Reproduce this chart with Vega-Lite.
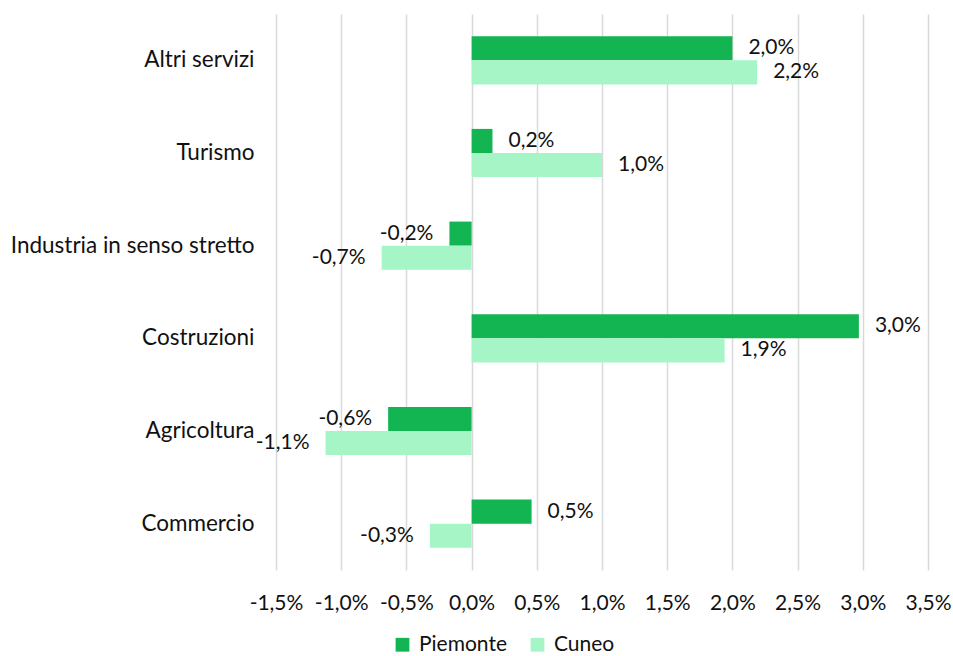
{
  "$schema": "https://vega.github.io/schema/vega-lite/v6.json",
  "width": 652,
  "height": 556,
  "autosize": {"type": "none"},
  "padding": {"left": 276, "top": 14, "right": 25, "bottom": 86},
  "background": "white",
  "config": {
    "locale": {"number": {"decimal": ",", "thousands": ".", "grouping": [3], "currency": ["", " €"], "minus": "-"}},
    "font": "Lato",
    "view": {"stroke": null},
    "axis": {"labelFont": "Lato", "labelFontSize": 21, "labelColor": "#111111"},
    "legend": {"labelFont": "Lato", "labelFontSize": 21, "labelColor": "#111111"}
  },
  "data": {
    "values": [
      {"settore": "Altri servizi", "area": "Piemonte", "valore": 0.0200},
      {"settore": "Altri servizi", "area": "Cuneo", "valore": 0.0219},
      {"settore": "Turismo", "area": "Piemonte", "valore": 0.0016},
      {"settore": "Turismo", "area": "Cuneo", "valore": 0.0100},
      {"settore": "Industria in senso stretto", "area": "Piemonte", "valore": -0.0017},
      {"settore": "Industria in senso stretto", "area": "Cuneo", "valore": -0.0069},
      {"settore": "Costruzioni", "area": "Piemonte", "valore": 0.0297},
      {"settore": "Costruzioni", "area": "Cuneo", "valore": 0.0194},
      {"settore": "Agricoltura", "area": "Piemonte", "valore": -0.0064},
      {"settore": "Agricoltura", "area": "Cuneo", "valore": -0.0112},
      {"settore": "Commercio", "area": "Piemonte", "valore": 0.0046},
      {"settore": "Commercio", "area": "Cuneo", "valore": -0.0032}
    ]
  },
  "encoding": {
    "y": {
      "field": "settore", "type": "nominal",
      "sort": ["Altri servizi", "Turismo", "Industria in senso stretto", "Costruzioni", "Agricoltura", "Commercio"],
      "scale": {"paddingInner": 0.48, "paddingOuter": 0.24},
      "axis": {"title": null, "domain": false, "ticks": false, "labelPadding": 22, "labelLimit": 0, "labelFontSize": 22.5}
    },
    "yOffset": {"field": "area", "type": "nominal", "sort": ["Piemonte", "Cuneo"], "scale": {"paddingInner": 0, "paddingOuter": 0}},
    "x": {
      "field": "valore", "type": "quantitative",
      "scale": {"domain": [-0.015, 0.035], "nice": false, "zero": false},
      "axis": {"title": null, "format": ".1%", "values": [-0.015, -0.01, -0.005, 0, 0.005, 0.01, 0.015, 0.02, 0.025, 0.03, 0.035],
               "domain": false, "ticks": false, "grid": true, "gridColor": "#d9d9d9", "gridWidth": 1.5, "labelPadding": 22, "labelFlush": false}
    }
  },
  "layer": [
    {
      "mark": {"type": "bar"},
      "encoding": {
        "color": {
          "field": "area", "type": "nominal",
          "scale": {"domain": ["Piemonte", "Cuneo"], "range": ["#13B552", "#A6F5C6"]},
          "legend": {"title": null, "orient": "none", "legendX": 116, "legendY": 620, "direction": "horizontal", "symbolType": "square", "symbolSize": 190, "symbolStrokeWidth": 0, "labelOffset": 6, "columnPadding": 20}
        }
      }
    },
    {
      "transform": [{"filter": "datum.valore >= 0"}],
      "mark": {"type": "text", "align": "left", "baseline": "middle", "dx": 16, "fontSize": 21, "color": "#111111"},
      "encoding": {"text": {"field": "valore", "type": "quantitative", "format": ".1%"}}
    },
    {
      "transform": [{"filter": "datum.valore < 0"}],
      "mark": {"type": "text", "align": "right", "baseline": "middle", "dx": -16, "fontSize": 21, "color": "#111111"},
      "encoding": {"text": {"field": "valore", "type": "quantitative", "format": ".1%"}}
    }
  ]
}
